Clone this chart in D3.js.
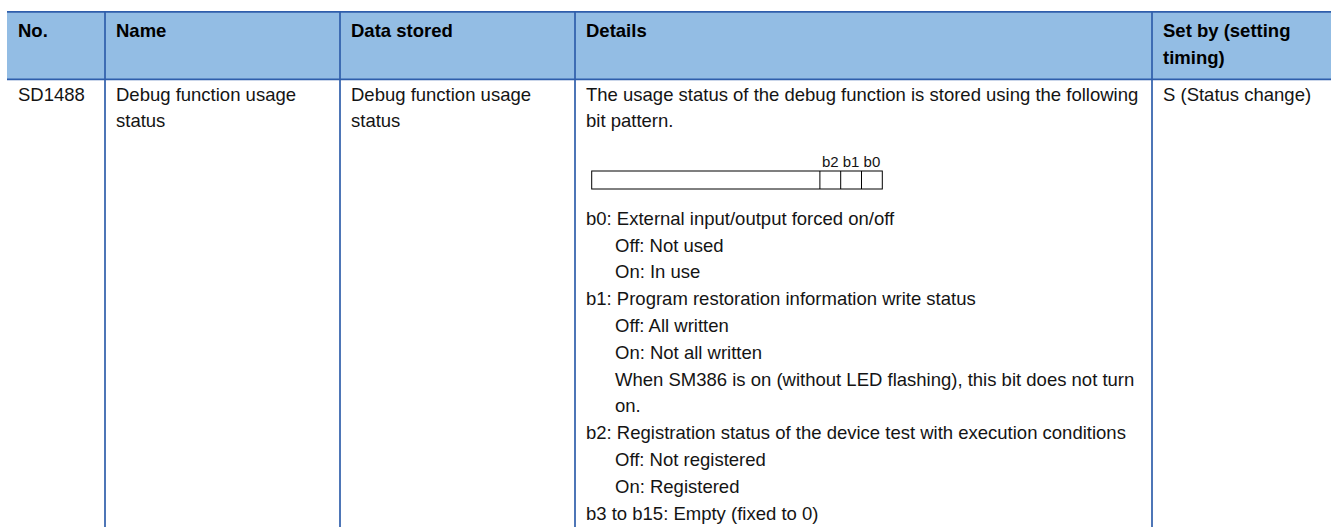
<!DOCTYPE html>
<html><head><meta charset="utf-8">
<script src="https://cdn.jsdelivr.net/npm/d3@7"></script>
<style>
html,body{margin:0;padding:0;background:#fff;}
svg{display:block;}
text{font-family:"Liberation Sans",Arial,sans-serif;}
</style></head>
<body>
<script>
// ---- data ----
const headerLines = [["No."], ["Name"], ["Data stored"], ["Details"], ["Set by (setting", "timing)"]];
const rowNo = ["SD1488"];
const rowName = ["Debug function usage", "status"];
const rowStored = ["Debug function usage", "status"];
const rowSetBy = ["S (Status change)"];
const detailIntro = ["The usage status of the debug function is stored using the following", "bit pattern."];
const bitLabels = ["b2", "b1", "b0"];
const detailText = [
  "b0: External input/output forced on/off",
  "Off: Not used",
  "On: In use",
  "b1: Program restoration information write status",
  "Off: All written",
  "On: Not all written",
  "When SM386 is on (without LED flashing), this bit does not turn",
  "on.",
  "b2: Registration status of the device test with execution conditions",
  "Off: Not registered",
  "On: Registered",
  "b3 to b15: Empty (fixed to 0)"
];
const detailIndent = [0, 1, 1, 0, 1, 1, 1, 1, 0, 1, 1, 0];

// ---- layout ----
const W = 1331, H = 527;
const colEdges = [7, 105, 340, 575, 1152, 1331];
const colX = d3.scaleOrdinal().domain(d3.range(6)).range(colEdges);
const pad = 11;
const lineH = 26.8;
const tableTop = 11.8, headBottom = 79.3;
const headLine = d3.scaleLinear().domain([0, 1]).range([36.7, 36.7 + 27.5]);
const bodyLine = d3.scaleLinear().domain([0, 1]).range([100.5, 100.5 + lineH]);
const detLine = d3.scaleLinear().domain([0, 1]).range([224.8, 224.8 + lineH]);
const indentX = d3.scaleLinear().domain([0, 1]).range([0, 29]);
const borderColor = "#2f5eab";
const headFill = "#93bde4";
const fontSize = 18.5;

const svg = d3.select("body").append("svg").attr("width", W).attr("height", H);

// header background
svg.append("rect").attr("x", colX(0)).attr("y", tableTop).attr("width", colX(5) - colX(0))
  .attr("height", headBottom - tableTop).attr("fill", headFill);

// header text
headerLines.forEach((lines, ci) => {
  svg.append("g").selectAll("text").data(lines).join("text")
    .attr("x", colX(ci) + pad).attr("y", (d, i) => headLine(i))
    .attr("font-size", fontSize).attr("font-weight", "bold").attr("fill", "#000")
    .text(d => d);
});

function cellText(lines, ci) {
  svg.append("g").selectAll("text").data(lines).join("text")
    .attr("x", colX(ci) + pad).attr("y", (d, i) => bodyLine(i))
    .attr("font-size", fontSize).attr("fill", "#141414")
    .text(d => d);
}
cellText(rowNo, 0);
cellText(rowName, 1);
cellText(rowStored, 2);
cellText(detailIntro, 3);
cellText(rowSetBy, 4);

// details lines
svg.append("g").selectAll("text").data(detailText).join("text")
  .attr("x", (d, i) => colX(3) + pad + indentX(detailIndent[i]))
  .attr("y", (d, i) => detLine(i))
  .attr("font-size", fontSize).attr("fill", "#141414")
  .text(d => d);

// bit diagram
const boxLeft = 591.7, boxRight = 882.3, boxTop = 171, boxBottom = 189;
const cellX = d3.scaleLinear().domain([0, 3]).range([boxRight - 3 * 20.8, boxRight]);
const g = svg.append("g").attr("fill", "none").attr("stroke", "#000").attr("stroke-width", 1);
g.append("rect").attr("x", boxLeft).attr("y", boxTop).attr("width", boxRight - boxLeft).attr("height", boxBottom - boxTop);
g.selectAll("line").data(d3.range(3)).join("line")
  .attr("x1", d => cellX(d)).attr("x2", d => cellX(d)).attr("y1", boxTop).attr("y2", boxBottom);
svg.append("g").selectAll("text").data(bitLabels).join("text")
  .attr("x", (d, i) => cellX(i + 0.5)).attr("y", 167).attr("text-anchor", "middle")
  .attr("font-size", 15).attr("fill", "#141414").text(d => d);

// borders
const b = svg.append("g").attr("stroke", borderColor).attr("stroke-width", 1.7);
[tableTop, headBottom].forEach(y => {
  b.append("line").attr("x1", colX(0)).attr("x2", colX(5)).attr("y1", y).attr("y2", y);
});
[1, 2, 3, 4].forEach(ci => {
  b.append("line").attr("x1", colX(ci)).attr("x2", colX(ci)).attr("y1", tableTop).attr("y2", H);
});
</script>
</body></html>
